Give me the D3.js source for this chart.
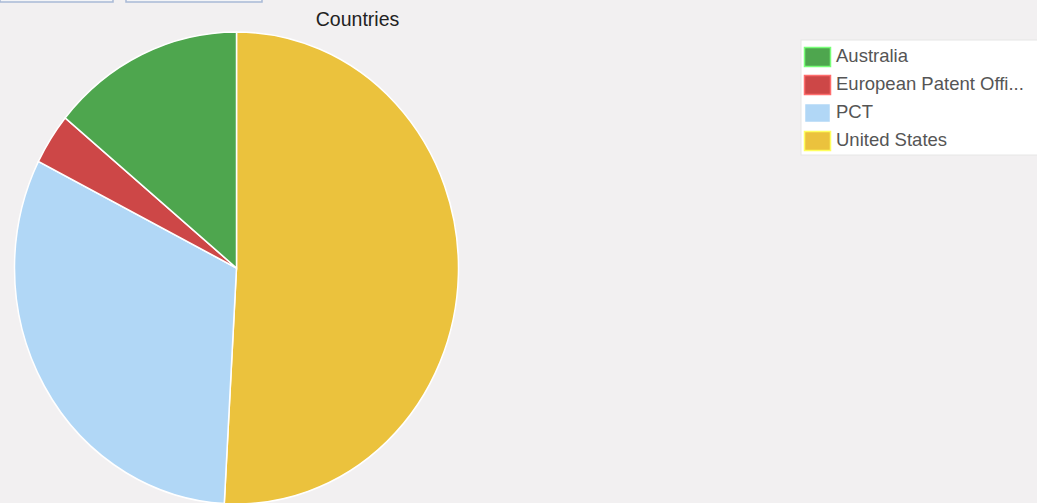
<!DOCTYPE html>
<html>
<head>
<meta charset="utf-8">
<script src="https://cdn.jsdelivr.net/npm/d3@7"></script>
<style>
  body { margin: 0; background: #f2f0f1; overflow: hidden; }
  svg { display: block; font-family: Arial, "Liberation Sans", sans-serif; }
</style>
</head>
<body>
<div id="chart"></div>
<script>
// Data (pie order clockwise from top)
const countries = ["United States", "PCT", "European Patent Office", "Australia"];
const counts = [29, 18, 2, 8];
const colors = ["#ebc23d", "#b1d7f6", "#cd4747", "#4ea64e"];
// legend order
const legendOrder = ["Australia", "European Patent Office", "PCT", "United States"];

const w = 1037;
const h = 503;

const svg = d3.select("#chart")
  .append("svg")
  .attr("width", w)
  .attr("height", h);

// tabs cut off at the top
svg.append("rect").attr("x", 0).attr("y", -4).attr("width", 113).attr("height", 6)
  .attr("fill", "#f4f5f8").attr("stroke", "#a9b9d6").attr("stroke-width", 1.5);
svg.append("rect").attr("x", 126).attr("y", -4).attr("width", 136).attr("height", 6)
  .attr("fill", "#f4f5f8").attr("stroke", "#a9b9d6").attr("stroke-width", 1.5);

// Title
svg.append("text")
  .attr("x", 357.5)
  .attr("y", 26)
  .attr("text-anchor", "middle")
  .attr("font-size", 19.5)
  .attr("fill", "#222")
  .text("Countries");

// Pie
const color = d3.scaleOrdinal().domain(countries).range(colors);
const data = countries.map((c, i) => ({ name: c, value: counts[i] }));

const pie = d3.pie().value(d => d.value).sort(null);
const r = 222;
const arc = d3.arc().innerRadius(0).outerRadius(r);

const g = svg.append("g")
  .attr("transform", "translate(236.5,268) scale(1,1.063)");

g.selectAll("path")
  .data(pie(data))
  .enter()
  .append("path")
  .attr("d", arc)
  .attr("fill", d => color(d.data.name))
  .attr("stroke", "#ffffff")
  .attr("stroke-width", 1.5);

// Legend
const legend = svg.append("g").attr("transform", "translate(801,40)");
legend.append("rect")
  .attr("x", 0).attr("y", 0)
  .attr("width", 250).attr("height", 115)
  .attr("fill", "#ffffff")
  .attr("stroke", "#e6e6e6");

const truncate = s => s.length > 20 ? s.slice(0, 20) + "..." : s;

legendOrder.forEach((name, i) => {
  const row = legend.append("g").attr("transform", "translate(3," + (7 + i * 28) + ")");
  row.append("rect")
    .attr("x", 0.5).attr("y", 0.5)
    .attr("width", 26).attr("height", 19)
    .attr("fill", color(name))
    .attr("stroke", d3.color(color(name)).brighter(1.2))
    .attr("stroke-width", 1.5);
  row.append("text")
    .attr("x", 32)
    .attr("y", 14.5)
    .attr("font-size", 18.5)
    .attr("fill", "#555")
    .text(truncate(name));
});
</script>
</body>
</html>
